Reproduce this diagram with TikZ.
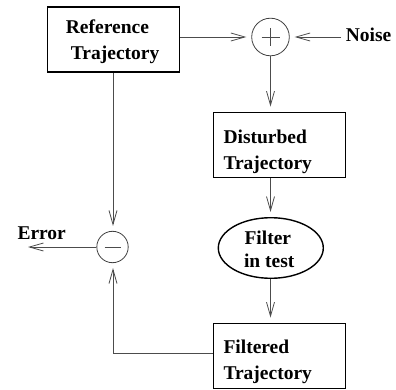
\documentclass[tikz,border=0pt]{standalone}
\usepackage{fontspec}
\setmainfont{Liberation Serif}
\usetikzlibrary{arrows.meta,shapes.geometric}
\begin{document}
\begin{tikzpicture}[x=1pt,y=-1pt,
  box/.style={draw=black,line width=1.8pt,minimum width=132pt,minimum height=65pt,inner sep=0pt},
  oval/.style={ellipse,draw=black,line width=1.4pt,minimum width=105pt,minimum height=60.6pt,inner sep=0pt},
  junction/.style={circle,draw=black!75,line width=0.8pt,inner sep=0pt},
  lbl/.style={font=\fontsize{19.5}{22}\selectfont\bfseries,inner sep=0pt,anchor=base west,text=black},
  conn/.style={draw=black!70,line width=0.8pt},
  arr/.style={conn,-{Straight Barb[length=14pt,width=8pt]},shorten >=5pt}
]
\useasboundingbox (0,0) rectangle (396,390);
% blocks
\node[box] (ref) at (113.5,39.5) {};
\node[box] (dist) at (279.5,145) {};
\node[box] (filt) at (279.5,356) {};
\node[oval] (filter) at (270.8,248) {};
\node[junction,minimum size=37.6pt] (plus) at (270.5,37) {};
\node[junction,minimum size=31.4pt] (minus) at (112.5,247) {};
% signs
\draw[conn] ([xshift=-9pt]plus.center) -- ([xshift=9pt]plus.center);
\draw[conn] ([yshift=9pt]plus.center) -- ([yshift=-9pt]plus.center);
\draw[conn] ([xshift=-8pt]minus.center) -- ([xshift=8pt]minus.center);
% texts
\node[lbl] (t1) at (65.7,33.3) {Reference};
\node[lbl] (t2) at (70.7,59.3) {Trajectory};
\node[lbl] (t3) at (223.3,144) {Disturbed};
\node[lbl] (t4) at (223.3,170) {Trajectory};
\node[lbl] (t5) at (244.3,244) {Filter};
\node[lbl] (t6) at (243.8,267.5) {in test};
\node[lbl] (t7) at (223.3,353.7) {Filtered};
\node[lbl] (t8) at (223.3,379.7) {Trajectory};
\node[lbl] (noise) at (345.7,41.5) {Noise};
\node[lbl] (err) at (17.3,239) {Error};
% connectors
\coordinate (nz) at (341,37);
\coordinate (bend) at (113,353.3);
\coordinate (errend) at (28,247);
\draw[arr] (ref.east |- plus) -- (plus.west);
\draw[arr] (nz) -- (plus.east);
\draw[arr] (plus.south) -- (plus |- dist.north);
\draw[arr] (plus |- dist.south) -- (plus |- filter.north);
\draw[arr] (plus |- filter.south) -- (plus |- filt.north);
\draw[arr] (bend |- ref.south) -- (bend |- minus.north);
\draw[arr] (filt.west |- bend) -- (bend) -- (bend |- minus.south);
\draw[arr,shorten >=0pt] (minus.west) -- (errend);
\end{tikzpicture}
\end{document}
